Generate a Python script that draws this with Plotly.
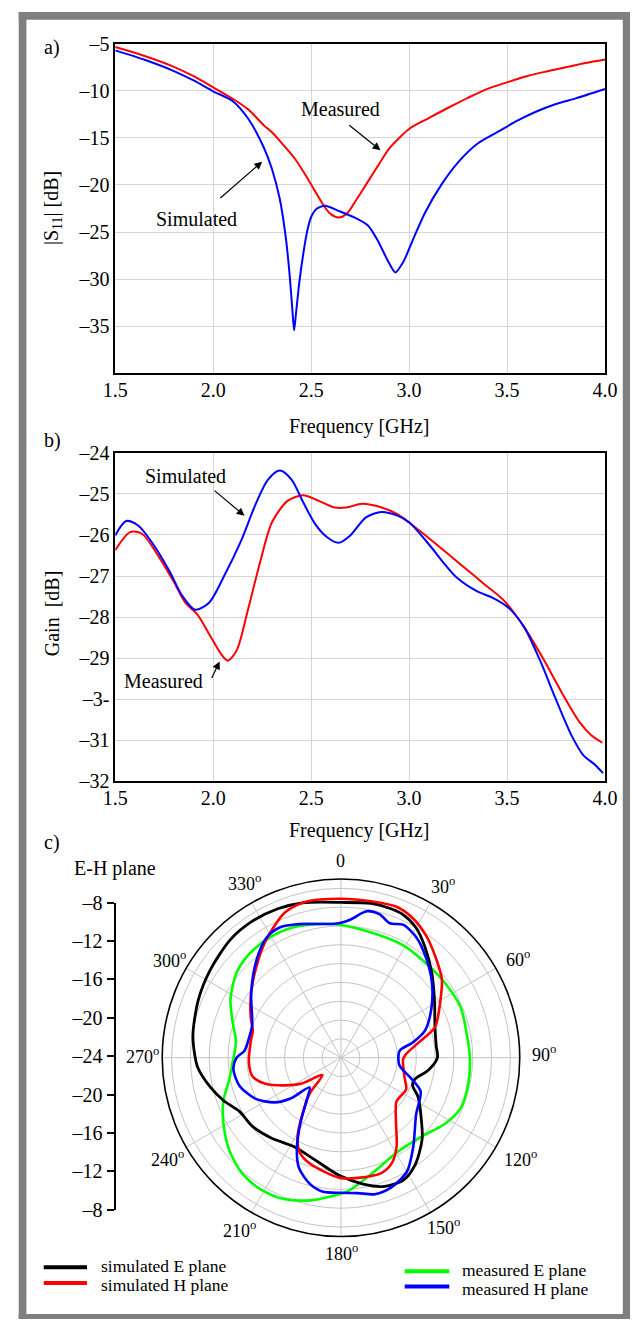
import plotly.graph_objects as go

W, H = 643, 1330
FONT = "Liberation Serif"

def px(x):
    return x / W

def py(y):
    return 1 - y / H

# ---------------- Panel a) |S11| ----------------
s11_sim_f = [1.5, 1.65, 1.8, 1.9, 2.0, 2.1, 2.18, 2.26, 2.30, 2.34, 2.37, 2.39, 2.405, 2.413, 2.422,
             2.44, 2.46, 2.48, 2.50, 2.53, 2.572, 2.64, 2.72, 2.79, 2.84, 2.89, 2.93, 2.97, 3.02,
             3.08, 3.165, 3.25, 3.35, 3.45, 3.55, 3.65, 3.75, 3.85, 4.0]
s11_sim = [-5.7, -6.7, -7.9, -8.9, -10.05, -11.1, -13.0, -16.1, -18.3, -21.5, -25.5, -29.5, -33.5,
           -35.45, -33.8, -30.3, -27.3, -24.9, -23.4, -22.5, -22.2, -22.75, -23.45, -24.3, -25.9,
           -28.0, -29.3, -28.2, -25.8, -23.0, -19.97, -17.6, -15.6, -14.4, -13.2, -12.2, -11.4,
           -10.8, -9.8]
s11_meas_f = [1.5, 1.65, 1.8, 1.9, 2.0, 2.1, 2.18, 2.26, 2.30, 2.36, 2.42, 2.49, 2.56, 2.60, 2.64,
              2.68, 2.73, 2.78, 2.84, 2.90, 2.95, 3.0, 3.1, 3.2, 3.3, 3.4, 3.5, 3.6, 3.7, 3.8, 3.9,
              4.0]
s11_meas = [-5.35, -6.3, -7.45, -8.45, -9.63, -10.85, -12.0, -13.7, -14.4, -15.8, -17.3, -19.6,
            -22.05, -23.1, -23.45, -23.1, -21.6, -19.97, -18.0, -16.1, -15.0, -14.05, -12.9, -11.8,
            -10.75, -9.8, -9.1, -8.45, -7.95, -7.5, -7.05, -6.67]
s11_ticks = [-5, -10, -15, -20, -25, -30, -35]
s11_ticktext = ["\u20135", "\u201310", "\u201315", "\u201320", "\u201325", "\u201330", "\u201335"]

# ---------------- Panel b) Gain ----------------
gain_sim_f = [1.5, 1.556, 1.617, 1.697, 1.778, 1.838, 1.908, 1.979, 2.059, 2.14, 2.22, 2.28, 2.34,
              2.40, 2.46, 2.52, 2.58, 2.64, 2.70, 2.78, 2.86, 2.94, 3.0, 3.105, 3.185, 3.246,
              3.346, 3.427, 3.507, 3.588, 3.668, 3.749, 3.829, 3.889, 3.95, 3.99]
gain_sim = [-26.01, -25.66, -25.77, -26.25, -26.89, -27.45, -27.82, -27.65, -26.97, -26.17, -25.21,
            -24.65, -24.43, -24.65, -25.21, -25.73, -26.05, -26.19, -26.01, -25.57, -25.44, -25.53,
            -25.69, -26.25, -26.73, -27.05, -27.37, -27.53, -27.77, -28.25, -29.05, -30.0, -30.88,
            -31.36, -31.6, -31.8]
gain_meas_f = [1.5, 1.576, 1.637, 1.717, 1.798, 1.858, 1.918, 1.979, 2.039, 2.075, 2.12, 2.18, 2.24,
               2.30, 2.38, 2.46, 2.54, 2.62, 2.68, 2.76, 2.86, 2.94, 3.02, 3.145, 3.266, 3.387,
               3.487, 3.588, 3.689, 3.789, 3.87, 3.93, 3.986]
gain_meas = [-26.37, -25.93, -25.97, -26.49, -27.13, -27.65, -27.93, -28.41, -28.89, -29.06, -28.81,
             -27.77, -26.65, -25.69, -25.17, -25.03, -25.17, -25.33, -25.33, -25.24, -25.33, -25.49,
             -25.77, -26.25, -26.73, -27.21, -27.61, -28.25, -29.05, -29.92, -30.56, -30.88, -31.06]
gain_ticks = [-24, -25, -26, -27, -28, -29, -30, -31, -32]
gain_ticktext = ["\u201324", "\u201325", "\u201326", "\u201327", "\u201328", "\u201329", "\u20133-",
                 "\u201331", "\u201332"]

freq_ticks = [1.5, 2.0, 2.5, 3.0, 3.5, 4.0]
freq_ticktext = ["1.5", "2.0", "2.5", "3.0", "3.5", "4.0"]

# ---------------- Panel c) polar patterns (deg, dB) ----------------
simE_theta = [0, 11, 18, 23, 30, 37, 47, 59, 72, 83, 90, 98, 106, 111, 117, 128, 135, 145, 153, 162,
              170, 181, 193, 208, 221, 232, 242, 250, 257, 266, 271, 279, 292, 304, 317, 327, 337,
              346, 360]
simE_r = [-7.5, -7.3, -7.3, -7.4, -8.05, -9.2, -10.8, -12.4, -13.5, -13.8, -13.75, -14.6, -15.8,
          -15.85, -14.8, -13.15, -11.8, -10.2, -9.4, -9.6, -10.35, -11.5, -12.7, -13.3, -12.7,
          -12.1, -11.8, -10.7, -9.8, -8.75, -8.46, -8.07, -7.64, -7.26, -6.8, -6.7, -6.8, -7.04,
          -7.5]
simH_theta = [0, 11, 20, 27, 35, 43, 52, 60, 72, 79, 87, 92, 106, 116, 128, 139, 148, 154, 161, 172,
              180, 189, 198, 204, 209, 214, 221, 227, 237, 244, 251, 258, 267, 281, 287, 294, 306,
              317, 327, 339, 348, 360]
simH_r = [-7.1, -7.07, -6.9, -7.3, -8.2, -9.3, -10.4, -11.8, -13.5, -15.6, -17.1, -17.4, -17.0,
          -16.3, -16.5, -15.1, -12.85, -11.6, -11.0, -11.1, -11.2, -11.8, -12.4, -13.1, -14.5,
          -16.6, -18.9, -21.3, -18.9, -17.3, -15.5, -14.4, -14.2, -14.25, -14.2, -13.5, -12.2,
          -10.8, -9.25, -7.45, -7.0, -7.1]
measE_theta = [0, 13, 29, 41.5, 54, 67, 79, 90, 101, 113, 123, 134, 150, 164, 177, 186, 192, 202,
               211, 220, 230, 240, 250, 258, 268, 279, 287, 298, 309, 318, 329, 340, 351, 360]
measE_r = [-9.9, -10.3, -10.35, -10.5, -10.4, -10.2, -10.4, -10.3, -10.2, -10.2, -10.95, -12.0,
           -12.3, -11.35, -9.8, -9.05, -8.5, -7.8, -7.6, -7.8, -8.55, -9.6, -10.7, -11.8, -12.5,
           -12.7, -12.0, -10.7, -9.7, -9.3, -9.15, -9.25, -9.6, -9.9]
measH_theta = [0, 4, 10, 15, 20, 25, 32, 40, 50, 61, 72, 78, 83, 91, 98, 107, 113, 127, 141, 150,
               159, 166, 173, 180, 188, 194, 201, 206, 212, 219, 226.5, 231, 236, 244.5, 254.6, 264,
               270, 274, 282, 290, 306, 319, 328, 335, 343, 356, 360]
measH_r = [-9.65, -9.27, -8.2, -8.2, -8.8, -8.4, -8.9, -10.0, -11.4, -13.0, -14.6, -16.2, -17.7,
           -17.9, -17.7, -16.1, -14.8, -14.0, -11.8, -10.0, -9.2, -9.05, -9.5, -9.64, -9.64, -10.2,
           -11.5, -13.3, -15.9, -18.2, -19.4, -17.1, -15.5, -13.9, -12.8, -12.5, -12.9, -13.7,
           -14.0, -13.95, -12.2, -10.3, -9.0, -8.7, -9.15, -9.75, -9.65]
ang_ticks = [0, 30, 60, 90, 120, 150, 180, 210, 240, 270, 300, 330]
ang_ticktext = ["0"] + ["%d<sup>o</sup>" % a for a in ang_ticks[1:]]
rad_grid = [-22, -20, -18, -16, -14, -12, -10, -8, -6]
eh_tickvals = [16, 12, 8, 4, 0, -4, -8, -12, -16]
eh_ticktext = ["\u20138", "\u201312", "\u201316", "\u201320", "\u201324", "\u201320", "\u201316",
               "\u201312", "\u20138"]

legend_names = ["simulated E plane", "simulated H plane", "measured E plane", "measured H plane"]
legend_colors = ["black", "#ff0000", "#00ff00", "#0000ff"]

RED, BLUE, GREEN = "#ff0000", "#0000ff", "#00ff00"
FS = 20

# polar geometry (pixels)
PCX, PCY, PR = 342.3, 1064.3, 186.0

fig = go.Figure()

# panel a
fig.add_trace(go.Scatter(x=s11_meas_f, y=s11_meas, mode="lines", line=dict(color=RED, width=2, shape="spline", smoothing=0.9), xaxis="x", yaxis="y", showlegend=False))
fig.add_trace(go.Scatter(x=s11_sim_f, y=s11_sim, mode="lines", line=dict(color=BLUE, width=2, shape="spline", smoothing=0.7), xaxis="x", yaxis="y", showlegend=False))
# panel b
fig.add_trace(go.Scatter(x=gain_meas_f, y=gain_meas, mode="lines", line=dict(color=RED, width=2, shape="spline", smoothing=0.8), xaxis="x2", yaxis="y2", showlegend=False))
fig.add_trace(go.Scatter(x=gain_sim_f, y=gain_sim, mode="lines", line=dict(color=BLUE, width=2, shape="spline", smoothing=0.8), xaxis="x2", yaxis="y2", showlegend=False))
# E-H scale axis (dummy, invisible)
fig.add_trace(go.Scatter(x=[None], y=[None], mode="lines", xaxis="x3", yaxis="y3", showlegend=False, hoverinfo="skip"))

# panel c polar
for th, rr, col, wd in [(measE_theta, measE_r, GREEN, 2.6), (simE_theta, simE_r, "black", 2.8),
                        (simH_theta, simH_r, RED, 2.6), (measH_theta, measH_r, BLUE, 2.6)]:
    fig.add_trace(go.Scatterpolar(theta=th, r=rr, mode="lines",
                                  line=dict(color=col, width=wd, shape="spline", smoothing=0.8),
                                  showlegend=False, subplot="polar"))

tickfont = dict(family=FONT, size=FS, color="black")
grid = "#d4d4d4"

axis_common = dict(showline=True, linecolor="black", linewidth=1.5, mirror=True, ticks="",
                   showgrid=True, gridcolor=grid, gridwidth=1, zeroline=False, tickfont=tickfont)

layout = dict(
    width=W, height=H, margin=dict(l=0, r=0, t=0, b=0),
    paper_bgcolor="white", plot_bgcolor="white",
    font=dict(family=FONT, size=FS, color="black"),
    xaxis=dict(domain=[px(107.4), px(617)], range=[1.5, 4.0], tickvals=freq_ticks, ticktext=freq_ticktext,
               anchor="y", ticklabelstandoff=-2, **axis_common),
    yaxis=dict(domain=[py(368.3), py(33.3)], range=[-40, -5], tickvals=s11_ticks, ticktext=s11_ticktext,
               anchor="x", ticklabelstandoff=0, **axis_common),
    xaxis2=dict(domain=[px(107.4), px(617)], range=[1.5, 4.0], tickvals=freq_ticks, ticktext=freq_ticktext,
                anchor="y2", ticklabelstandoff=-2, **axis_common),
    yaxis2=dict(domain=[py(783.3), py(449.3)], range=[-32, -24], tickvals=gain_ticks, ticktext=gain_ticktext,
                anchor="x2", ticklabelstandoff=0, **axis_common),
    xaxis3=dict(domain=[px(107.3), px(140)], range=[0, 1], visible=False, anchor="y3"),
    yaxis3=dict(domain=[py(1219), py(906.7)], range=[-16, 16], tickvals=eh_tickvals, ticktext=eh_ticktext,
                anchor="free", position=px(107.3), side="left", showline=True, linecolor="black",
                linewidth=1.5, ticks="outside", ticklen=7, tickwidth=1.5, tickcolor="black",
                showgrid=False, zeroline=False, tickfont=tickfont, ticklabelstandoff=1),
    polar=dict(
        domain=dict(x=[px(PCX - PR), px(PCX + PR)], y=[py(PCY + PR), py(PCY - PR)]),
        bgcolor="white",
        radialaxis=dict(range=[-24, -5], tickvals=rad_grid, showticklabels=False, ticks="",
                        showline=False, gridcolor="#c4c4c4", gridwidth=1),
        angularaxis=dict(rotation=90, direction="clockwise", tickvals=ang_ticks, showticklabels=False,
                         ticks="", showline=True, linecolor="black", linewidth=1.6,
                         gridcolor="#c4c4c4", gridwidth=1),
    ),
)

annotations = []
def txt(x, y, s, size=FS, xanchor="center", yanchor="middle", angle=0):
    annotations.append(dict(x=px(x), y=py(y), xref="paper", yref="paper", text=s, showarrow=False,
                            xanchor=xanchor, yanchor=yanchor, textangle=angle,
                            font=dict(family=FONT, size=size, color="black")))

txt(31, 37, "a)", xanchor="left")
txt(31, 437, "b)", xanchor="left")
txt(31, 845, "c)", xanchor="left")
txt(362, 422, "Frequency [GHz]")
txt(362, 833, "Frequency [GHz]")
txt(42, 200, "|S<sub>11</sub>| [dB]", angle=-90)
txt(42, 612, "Gain  [dB]", angle=-90)
txt(107, 872, "E-H plane")

# angular tick labels of the polar plot, placed around the outer circle
ang_label_pos = {0: (342, 864), 30: (448, 889), 60: (526, 963), 90: (554, 1060), 120: (529, 1167),
                 150: (449, 1236), 180: (343, 1262), 210: (237, 1239), 240: (162, 1167),
                 270: (136, 1062), 300: (164, 964), 330: (242, 886)}
for a, lab in zip(ang_ticks, ang_ticktext):
    x, y = ang_label_pos[a]
    txt(x, y, lab, size=18)

# text + arrow labels in data coords
def dtext(x, y, s, xr, yr):
    annotations.append(dict(x=x, y=y, xref=xr, yref=yr, text=s, showarrow=False,
                            font=dict(family=FONT, size=FS, color="black")))

def arrow(x0, y0, x1, y1, xr, yr):
    annotations.append(dict(x=x1, y=y1, ax=x0, ay=y0, xref=xr, yref=yr, axref=xr, ayref=yr, text="",
                            showarrow=True, arrowhead=2, arrowsize=1.3, arrowwidth=1.2,
                            arrowcolor="black", standoff=0, startstandoff=0))

dtext(2.652, -11.96, "Measured", "x", "y")
arrow(2.687, -13.53, 2.854, -16.31, "x", "y")
dtext(1.914, -23.62, "Simulated", "x", "y")
arrow(2.029, -21.53, 2.250, -17.53, "x", "y")
dtext(1.858, -24.57, "Simulated", "x2", "y2")
arrow(1.999, -24.89, 2.160, -25.53, "x2", "y2")
dtext(1.747, -29.56, "Measured", "x2", "y2")
arrow(1.989, -29.52, 2.033, -29.08, "x2", "y2")

# legend (sample line + label)
shapes = []
leg_pos = [(33, 78, 1277.5, 91, 1276.0), (33, 78, 1293.5, 91, 1295.5),
           (408.6, 455, 1281.5, 466, 1280.0), (408.6, 455, 1297.0, 466, 1299.5)]
for (x0, x1, yy, tx, ty), name, col in zip(leg_pos, legend_names, legend_colors):
    shapes.append(dict(type="line", xref="paper", yref="paper", x0=px(x0), x1=px(x1), y0=py(yy), y1=py(yy),
                       line=dict(color=col, width=4)))
    txt(tx, ty, name, size=17.5, xanchor="left")

# grey frame
GREY = "#7f7f7f"
for (x0, y0, x1, y1) in [(7, 1, 15, 1330), (7, 1, 643, 9), (635.5, 1, 643, 1330), (7, 1325, 643, 1330)]:
    shapes.append(dict(type="rect", xref="paper", yref="paper", x0=px(x0), x1=px(x1), y0=py(y1), y1=py(y0),
                       fillcolor=GREY, line=dict(width=0), layer="above"))

layout["annotations"] = annotations
layout["shapes"] = shapes
fig.update_layout(**layout)
fig.write_html("out.html")
